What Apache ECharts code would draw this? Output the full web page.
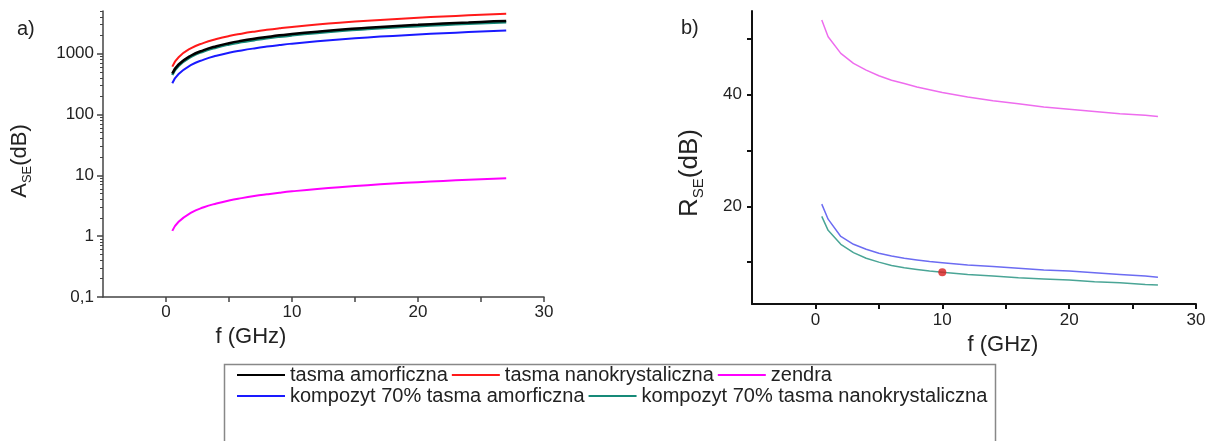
<!DOCTYPE html>
<html>
<head>
<meta charset="utf-8">
<script src="https://cdn.jsdelivr.net/npm/echarts@6/dist/echarts.min.js"></script>
<style>
  html, body { margin: 0; padding: 0; background: #fff; }
  #chart { width: 1210px; height: 441px; }
</style>
</head>
<body>
<div id="chart"></div>
<script>
// Frequency points (GHz)
const freq = [0.5, 1, 2, 3, 4, 5, 6, 7, 8, 9, 10, 12, 14, 16, 18, 20, 22, 24, 26, 27];

// a) absorption loss A_SE (dB)
const aTasmaAmorf   = [470, 660, 930, 1140, 1320, 1480, 1620, 1750, 1870, 1990, 2090, 2290, 2480, 2650, 2810, 2960, 3110, 3240, 3380, 3440];
const aTasmaNano    = [610, 870, 1230, 1500, 1730, 1940, 2120, 2290, 2450, 2600, 2740, 3000, 3240, 3460, 3670, 3870, 4060, 4240, 4410, 4500];
const aZendra       = [1.22, 1.72, 2.43, 2.98, 3.44, 3.85, 4.21, 4.55, 4.86, 5.16, 5.44, 5.96, 6.44, 6.88, 7.3, 7.7, 8.07, 8.43, 8.77, 8.94];
const aKompAmorf    = [325, 460, 650, 795, 920, 1030, 1125, 1215, 1300, 1380, 1455, 1590, 1720, 1840, 1950, 2055, 2155, 2250, 2340, 2390];
const aKompNano     = [445, 630, 890, 1090, 1260, 1410, 1540, 1660, 1780, 1890, 1990, 2180, 2360, 2520, 2670, 2820, 2950, 3080, 3210, 3270];

// b) reflection loss R_SE (dB)
const rZendra       = [53.4, 50.4, 47.4, 45.6, 44.4, 43.4, 42.6, 42.0, 41.4, 40.9, 40.4, 39.6, 38.9, 38.4, 37.8, 37.4, 37.0, 36.6, 36.3, 36.1];
const rKompAmorf    = [20.4, 17.7, 14.6, 13.2, 12.3, 11.6, 11.1, 10.7, 10.4, 10.1, 9.9, 9.5, 9.2, 8.9, 8.6, 8.4, 8.1, 7.8, 7.5, 7.3];
const rKompNano     = [18.2, 15.7, 13.2, 11.7, 10.7, 10.0, 9.4, 9.0, 8.7, 8.4, 8.2, 7.8, 7.5, 7.2, 7.0, 6.8, 6.5, 6.3, 6.0, 5.9];
const rMarker       = [[10, 8.2]];

// Axis ticks and labels
const fTicks        = [0, 5, 10, 15, 20, 25, 30];
const fLabels       = [0, 10, 20, 30];
const aMajor        = [0.1, 1, 10, 100, 1000];
const aMinor        = [0.2, 0.3, 0.4, 0.5, 0.6, 0.7, 0.8, 0.9,
                       2, 3, 4, 5, 6, 7, 8, 9,
                       20, 30, 40, 50, 60, 70, 80, 90,
                       200, 300, 400, 500, 600, 700, 800, 900,
                       2000, 3000, 4000, 5000];
const rTicks        = [10, 20, 30, 40, 50];
const rLabels       = [20, 40];

const names = {
  amorf: 'tasma amorficzna',
  nano: 'tasma nanokrystaliczna',
  zendra: 'zendra',
  kAmorf: 'kompozyt 70% tasma amorficzna',
  kNano: 'kompozyt 70% tasma nanokrystaliczna'
};

const FONT = '"Liberation Sans", Arial, sans-serif';
const pairs = vals => freq.map((f, i) => [f, vals[i]]);

const chart = echarts.init(document.getElementById('chart'), null, { renderer: 'canvas' });

function xAxisCfg(gridIndex, nameGap, namePad, margin, lineW, lineC) {
  return {
    type: 'value', gridIndex, min: -5, max: 30,
    name: 'f (GHz)', nameLocation: 'middle', nameGap,
    nameTextStyle: { fontFamily: FONT, fontSize: 22, color: '#222', padding: namePad },
    axisLine: { show: true, onZero: false, lineStyle: { color: lineC, width: lineW } },
    axisTick: { show: true, inside: false, length: 5, customValues: fTicks, lineStyle: { color: lineC, width: lineW } },
    axisLabel: { customValues: fLabels, margin, fontFamily: FONT, fontSize: 17, color: '#222' },
    splitLine: { show: false }
  };
}

const option = {
  animation: false,
  backgroundColor: '#fff',
  title: [
    { text: 'a)', left: 12, top: 14, textStyle: { fontFamily: FONT, fontSize: 20, fontWeight: 'normal', color: '#222' } },
    { text: 'b)', left: 676, top: 13, textStyle: { fontFamily: FONT, fontSize: 20, fontWeight: 'normal', color: '#222' } }
  ],
  grid: [
    { left: 103, top: 11, width: 441, height: 286 },
    { left: 752, top: 11, width: 444, height: 293 }
  ],
  xAxis: [
    xAxisCfg(0, 22, [0, 145, 0, 0], 7, 1.5, '#444'),
    xAxisCfg(1, 15, [0, 0, 0, 58], 8, 2, '#111')
  ],
  yAxis: [
    {
      type: 'log', logBase: 10, gridIndex: 0, min: 0.1, max: 5000,
      name: '{m|A}{s|SE}{m|(dB)}', nameLocation: 'middle', nameGap: 69, nameRotate: 90,
      nameTextStyle: {
        fontFamily: FONT, color: '#222', padding: [0, 14, 0, 0],
        rich: {
          m: { fontFamily: FONT, fontSize: 22, lineHeight: 28, color: '#222' },
          s: { fontFamily: FONT, fontSize: 13, lineHeight: 14, verticalAlign: 'bottom', color: '#222' }
        }
      },
      axisLine: { show: true, onZero: false, lineStyle: { color: '#444', width: 1.5 } },
      axisTick: { show: true, length: 6, customValues: aMajor, lineStyle: { color: '#444', width: 1.5 } },
      axisLabel: {
        customValues: aMajor, margin: 9, fontFamily: FONT, fontSize: 17, color: '#222',
        formatter: v => String(v).replace('.', ',')
      },
      splitLine: { show: false }
    },
    {
      // minor log ticks on the same scale
      type: 'log', logBase: 10, gridIndex: 0, min: 0.1, max: 5000, position: 'left',
      axisLine: { show: false, onZero: false },
      axisTick: { show: true, length: 3, customValues: aMinor, lineStyle: { color: '#444', width: 1 } },
      axisLabel: { show: false },
      splitLine: { show: false }
    },
    {
      type: 'value', gridIndex: 1, min: 2.5, max: 55,
      name: '{m|R}{s|SE}{m|(dB)}', nameLocation: 'middle', nameGap: 46, nameRotate: 90,
      nameTextStyle: {
        fontFamily: FONT, color: '#222', padding: [0, 31, 0, 0],
        rich: {
          m: { fontFamily: FONT, fontSize: 26, lineHeight: 32, color: '#222' },
          s: { fontFamily: FONT, fontSize: 15, lineHeight: 16, verticalAlign: 'bottom', color: '#222' }
        }
      },
      axisLine: { show: true, onZero: false, lineStyle: { color: '#111', width: 2 } },
      axisTick: { show: true, length: 5, customValues: rTicks, lineStyle: { color: '#111', width: 2 } },
      axisLabel: { customValues: rLabels, margin: 10, fontFamily: FONT, fontSize: 17, color: '#222' },
      splitLine: { show: false }
    }
  ],
  legend: [
    {
      left: 237, top: 365, padding: 0, itemGap: 4, itemWidth: 48, itemHeight: 2, icon: 'rect',
      selectedMode: false,
      textStyle: { fontFamily: FONT, fontSize: 20, color: '#222' },
      data: [names.amorf, names.nano, names.zendra]
    },
    {
      left: 237, top: 386, padding: 0, itemGap: 4, itemWidth: 48, itemHeight: 2, icon: 'rect',
      selectedMode: false,
      textStyle: { fontFamily: FONT, fontSize: 20, color: '#222' },
      data: [names.kAmorf, names.kNano]
    }
  ],
  graphic: [
    {
      type: 'rect', silent: true, z: 0,
      shape: { x: 224.5, y: 364.5, width: 771, height: 100 },
      style: { fill: 'none', stroke: '#888', lineWidth: 1.5 }
    }
  ],
  series: [
    { name: names.kNano, type: 'line', xAxisIndex: 0, yAxisIndex: 0, data: pairs(aKompNano), showSymbol: false, smooth: true, lineStyle: { color: '#168a78', width: 2.5 }, itemStyle: { color: '#168a78' } },
    { name: names.amorf, type: 'line', xAxisIndex: 0, yAxisIndex: 0, data: pairs(aTasmaAmorf), showSymbol: false, smooth: true, lineStyle: { color: '#000', width: 2.5 }, itemStyle: { color: '#000' } },
    { name: names.nano, type: 'line', xAxisIndex: 0, yAxisIndex: 0, data: pairs(aTasmaNano), showSymbol: false, smooth: true, lineStyle: { color: '#ff1a1a', width: 2 }, itemStyle: { color: '#ff1a1a' } },
    { name: names.kAmorf, type: 'line', xAxisIndex: 0, yAxisIndex: 0, data: pairs(aKompAmorf), showSymbol: false, smooth: true, lineStyle: { color: '#1a1aff', width: 2 }, itemStyle: { color: '#1a1aff' } },
    { name: names.zendra, type: 'line', xAxisIndex: 0, yAxisIndex: 0, data: pairs(aZendra), showSymbol: false, smooth: true, lineStyle: { color: '#ff00ff', width: 2 }, itemStyle: { color: '#ff00ff' } },

    { name: names.zendra, type: 'line', xAxisIndex: 1, yAxisIndex: 2, data: pairs(rZendra), showSymbol: false, lineStyle: { color: '#ee6cee', width: 1.5 }, itemStyle: { color: '#ee6cee' } },
    { name: names.kAmorf, type: 'line', xAxisIndex: 1, yAxisIndex: 2, data: pairs(rKompAmorf), showSymbol: false, lineStyle: { color: '#6c6cf2', width: 1.5 }, itemStyle: { color: '#6c6cf2' } },
    { name: names.kNano, type: 'line', xAxisIndex: 1, yAxisIndex: 2, data: pairs(rKompNano), showSymbol: false, lineStyle: { color: '#4aa596', width: 1.5 }, itemStyle: { color: '#4aa596' } },
    { name: 'punkt', type: 'scatter', xAxisIndex: 1, yAxisIndex: 2, data: rMarker, symbol: 'circle', symbolSize: 8, itemStyle: { color: '#d81e1e' }, z: 5 }
  ]
};

chart.setOption(option);
</script>
</body>
</html>
